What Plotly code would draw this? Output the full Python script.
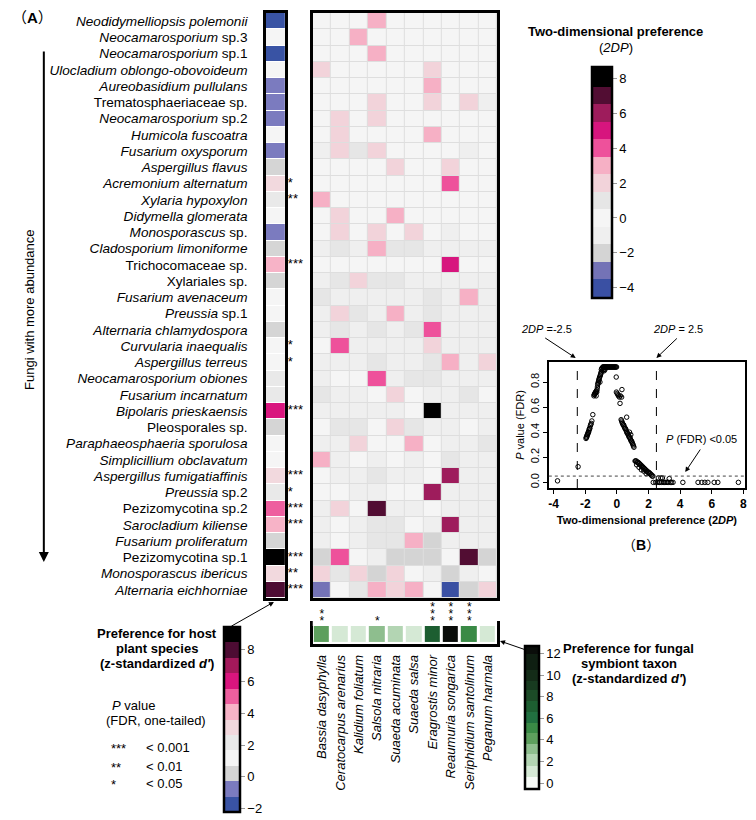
import plotly.graph_objects as go

W, H = 756, 820
def PX(x): return x / W
def PY(y): return 1 - y / H

FONT = "Arial, Liberation Sans, Noto Sans CJK SC, sans-serif"

# ---------------- data ----------------
fungi = [
    "<i>Neodidymelliopsis polemonii</i>", "<i>Neocamarosporium</i> sp.3", "<i>Neocamarosporium</i> sp.1",
    "<i>Ulocladium oblongo-obovoideum</i>", "<i>Aureobasidium pullulans</i>", "Trematosphaeriaceae sp.",
    "<i>Neocamarosporium</i> sp.2", "<i>Humicola fuscoatra</i>", "<i>Fusarium oxysporum</i>",
    "<i>Aspergillus flavus</i>", "<i>Acremonium alternatum</i>", "<i>Xylaria hypoxylon</i>",
    "<i>Didymella glomerata</i>", "<i>Monosporascus</i> sp.", "<i>Cladosporium limoniforme</i>",
    "Trichocomaceae sp.", "Xylariales sp.", "<i>Fusarium avenaceum</i>",
    "<i>Preussia</i> sp.1", "<i>Alternaria chlamydospora</i>", "<i>Curvularia inaequalis</i>",
    "<i>Aspergillus terreus</i>", "<i>Neocamarosporium obiones</i>", "<i>Fusarium incarnatum</i>",
    "<i>Bipolaris prieskaensis</i>", "Pleosporales sp.", "<i>Paraphaeosphaeria sporulosa</i>",
    "<i>Simplicillium obclavatum</i>", "<i>Aspergillus fumigatiaffinis</i>", "<i>Preussia</i> sp.2",
    "Pezizomycotina sp.2", "<i>Sarocladium kiliense</i>", "<i>Fusarium proliferatum</i>",
    "Pezizomycotina sp.1", "<i>Monosporascus ibericus</i>", "<i>Alternaria eichhorniae</i>",
]

plants = ["Bassia dasyphylla", "Ceratocarpus arenarius", "Kalidium foliatum", "Salsola nitraria",
          "Suaeda acuminata", "Suaeda salsa", "Eragrostis minor", "Reaumuria songarica",
          "Seriphidium santolinum", "Peganum harmala"]

# two-dimensional preference (2DP), rows = fungi, cols = plants
dp2 = [
    [0, 0, 0, 3, 0, 0, 0, 0, 0, 0],
    [0, 0, 3, 0, 0, 0, 0, 0, 0, 0],
    [0, 0, 0, 3, 0, 0, 0, 0, 0, 0],
    [2, 0, 0, 0, 0, 0, 2, 0, 0, 0],
    [0, 0, 0, 0, 0, 0, 3, 0, 0, 0],
    [0, 0, 0, 2, 0, 0, 2, 0, 2, -1],
    [0, 2, 0, 2, 0, 0, 0, 0, 0, 0],
    [0, 2, 0, 0, 0, 0, 3, 0, 0, 0],
    [-1, 2, 1, 2, 0, 0, 0, 0, -1, 0],
    [0, 0, 0, 0, 2, 0, 0, 2, 0, 0],
    [0, 0, 0, 0, 0, 0, 0, 4, 0, 0],
    [3, 0, 0, 0, 0, 0, 0, 0, 0, 0],
    [0, 2, 0, 0, 3, 0, 0, 0, 0, 0],
    [0, 2, 0, 2, 0, 2, 0, -1, 0, 0],
    [-1, 1, -1, 3, 1, 1, -1, -1, -1, -1],
    [0, 0, 0, 0, 0, 0, 0, 5, 0, 0],
    [-1, 1, 2, 1, 1, -1, -1, -1, -1, -1],
    [1, -1, -1, -1, -1, -1, 1, -1, 3, -1],
    [-1, 2, 1, -1, 3, -1, 1, -1, -1, -1],
    [-1, 1, -1, 1, -1, 1, 4, -1, -1, -1],
    [0, 4, -1, -1, -1, -1, 2, -1, -1, -1],
    [-1, -1, -1, 1, -1, -1, 1, 3, -1, 2],
    [-1, 0, 0, 4, -1, 1, 1, -1, -1, -1],
    [1, -1, -1, 0, 2, 0, -1, -1, 1, 0],
    [-1, -1, -1, -1, -1, 0, 8, -1, -1, -1],
    [0, 1, 1, 0, 2, 1, -1, -1, 0, -1],
    [-1, -1, 2, 0, 0, 3, 0, -1, -1, 1],
    [3, -1, 0, -1, 0, -1, 0, 1, -1, -1],
    [0, -1, -1, 1, -1, -1, 0, 6, -1, -1],
    [0, 0, -1, -1, 0, 0, 6, -1, -1, -1],
    [-1, 2, 0, 7, -1, -1, 0, -1, -1, -1],
    [-1, 0, -1, 1, 1, 0, -1, 6, -1, -1],
    [-1, 0, -1, 1, 1, 3, -2, -1, -1, -1],
    [-2, 4, 0, -1, -2, -2, -2, 0, 7, -2],
    [2, 1, 2, -2, 2, 0, -1, -2, -1, 0],
    [-3, 0, 1, 3, 2, 3, 0, -4, -2, 2],
]

# preference for host plant species (z-standardized d') per fungus
host_pref = [-1.7, 1.2, -1.7, 1.2, -0.75, -0.75, -0.75, 1.2, -0.75, 0.2,
             3.1, 2.2, 1.2, -0.75, 0.2, 4.1, 0.2, 1.2, 1.2, 0.2,
             1.2, 1.2, 2.2, 2.2, 6.0, 0.2, 1.2, 1.2, 3.1, 2.2,
             5.0, 4.1, 0.2, 9.0, 3.1, 8.0]
host_stars = ["", "", "", "", "", "", "", "", "", "",
              "*", "**", "", "", "", "***", "", "", "", "",
              "*", "*", "", "", "***", "", "", "", "***", "*",
              "***", "***", "", "***", "**", "***"]

# preference for fungal symbiont taxon (z-standardized d') per plant
plant_pref = [4.1, 0.9, 1.3, 3.2, 2.0, 1.2, 7.0, 12.2, 5.0, 1.3]
plant_stars = ["**", "", "", "*", "", "", "***", "***", "***", ""]

# panel B: 2DP vs FDR P value
scatter_x = [
    -3.75, -2.45,
    -1.95, -1.93, -1.91, -1.89, -1.87, -1.85, -1.83, -1.81, -1.79, -1.77, -1.75, -1.73, -1.71, -1.68, -1.65, -1.62, -1.58, -1.52,
    -1.45, -1.43, -1.41, -1.39, -1.37, -1.35, -1.33, -1.31, -1.29, -1.27, -1.25, -1.23, -1.21, -1.19, -1.17, -1.15, -1.13, -1.11,
    -1.09, -1.07, -1.05, -1.03, -1.01, -0.99,
    -0.98, -0.95, -0.92, -0.89, -0.86, -0.83, -0.80, -0.77, -0.74, -0.71, -0.68, -0.65, -0.62, -0.58, -0.54, -0.50, -0.46, -0.42,
    -0.38, -0.34, -0.30, -0.26, -0.22, -0.18, -0.14, -0.10, -0.06, -0.02, -0.90, -0.85, -0.80, -0.75,
    -0.04, -0.03, 0.02, 0.06, 0.10, 0.16, 0.22, 0.30, 0.20, 0.32,
    0.27, 0.30, 0.33, 0.36, 0.39, 0.42, 0.45, 0.48, 0.51, 0.54, 0.57, 0.60, 0.63, 0.66, 0.69, 0.72, 0.75, 0.78, 0.81, 0.84,
    0.87, 0.90, 0.93, 0.96, 0.99, 1.02, 1.05, 1.08, 0.62, 0.80, 0.88,
    1.15, 1.19, 1.23, 1.27, 1.31, 1.35, 1.39, 1.43, 1.47, 1.51, 1.55, 1.59, 1.63, 1.67, 1.71, 1.75, 1.79, 1.83, 1.87, 1.91,
    1.95, 1.99, 2.03, 2.07, 2.11, 2.15, 2.19, 2.23, 2.28, 1.25, 1.40, 1.55, 1.70, 1.85,
    2.30, 2.45, 2.55, 2.62, 2.68, 2.72, 2.78, 2.83, 2.88, 2.93, 3.00, 3.10, 3.18, 3.25, 3.31, 3.38, 3.45, 3.55, 4.17,
    5.13, 5.37, 5.56, 5.75, 6.15, 6.38, 7.68,
]
scatter_y = [
    0.012, 0.125,
    0.35, 0.36, 0.36, 0.37, 0.38, 0.38, 0.39, 0.40, 0.40, 0.41, 0.42, 0.43, 0.43, 0.45, 0.46, 0.47, 0.49, 0.54,
    0.69, 0.70, 0.70, 0.71, 0.71, 0.72, 0.72, 0.69, 0.73, 0.72, 0.74, 0.76, 0.78, 0.79, 0.80, 0.81, 0.82, 0.83,
    0.84, 0.80, 0.85, 0.86, 0.87, 0.88,
    0.90, 0.91, 0.91, 0.92, 0.92, 0.92, 0.92, 0.92, 0.92, 0.92, 0.92, 0.92, 0.92, 0.92, 0.92, 0.92, 0.92, 0.92,
    0.92, 0.92, 0.92, 0.92, 0.92, 0.92, 0.92, 0.92, 0.92, 0.92, 0.89, 0.90, 0.89, 0.90,
    0.84, 0.72, 0.71, 0.70, 0.69, 0.68, 0.69, 0.68, 0.63, 0.74,
    0.50, 0.49, 0.48, 0.47, 0.46, 0.46, 0.45, 0.44, 0.43, 0.43, 0.42, 0.41, 0.40, 0.39, 0.39, 0.38, 0.37, 0.36, 0.36, 0.35,
    0.34, 0.33, 0.33, 0.32, 0.31, 0.30, 0.29, 0.28, 0.52, 0.40, 0.38,
    0.17, 0.17, 0.17, 0.16, 0.16, 0.16, 0.15, 0.15, 0.14, 0.14, 0.13, 0.13, 0.12, 0.12, 0.11, 0.11, 0.10, 0.10, 0.09, 0.09,
    0.08, 0.08, 0.08, 0.07, 0.07, 0.06, 0.06, 0.05, 0.05, 0.14, 0.12, 0.10, 0.09, 0.07,
    0.0, 0.0, 0.0, 0.035, 0.0, 0.0, 0.035, 0.0, 0.035, 0.0, 0.0, 0.0, 0.0, 0.0, 0.03, 0.0, 0.0, 0.0, 0.0,
    0.0, 0.0, 0.0, 0.0, 0.0, 0.0, 0.0,
]
dp_thresholds = [-2.5, 2.5]
fdr_cut = 0.05

# ---------------- colour scales ----------------
def stepped(bounds, colors):
    lo, hi = bounds[0], bounds[-1]
    cs = []
    for i, c in enumerate(colors):
        cs.append([(bounds[i] - lo) / (hi - lo), c])
        cs.append([(bounds[i + 1] - lo) / (hi - lo), c])
    cs[0][0] = 0.0
    cs[-1][0] = 1.0
    return cs

dp_bounds = [-4.58, -3.5, -2.5, -1.5, -0.5, 0.5, 1.5, 2.5, 3.5, 4.5, 5.5, 6.5, 7.5, 8.64]
dp_colors = ["#3a50a3", "#7473b6", "#d4d4d4", "#efefef", "#f5f5f5", "#e6e6e6", "#f2d3da",
             "#f6b0c5", "#ee519b", "#d7157e", "#9e1c5c", "#520d33", "#000000"]
host_bounds = [-2.2, -1.23, -0.27, 0.70, 1.67, 2.63, 3.6, 4.57, 5.53, 6.5, 7.47, 8.43, 9.4]
host_colors = ["#3953a4", "#7b7bbf", "#d5d5d5", "#f5f5f5", "#e9e9e9", "#f2d9de", "#f7b3c7",
               "#ee5f9f", "#d9157e", "#a3195b", "#4d0c33", "#000000"]
pl_bounds = [-0.55, 0.55, 1.6, 2.7, 3.65, 4.6, 5.55, 6.55, 7.6, 8.6, 9.5, 10.5, 11.95, 12.7]
pl_colors = ["#f7fbf7", "#d5e9d5", "#b3d5b3", "#8ebe8e", "#5d9f5d", "#3a8a46", "#217040",
             "#1d5e31", "#1c4b27", "#183b20", "#142c18", "#0f1f12", "#0a0d0a"]

fig = go.Figure()

def cbar(x0, y_top, y_bot, thick, tickvals):
    return dict(x=PX(x0), xanchor="left", y=PY((y_top + y_bot) / 2), yanchor="middle",
                len=y_bot - y_top, lenmode="pixels", thickness=thick, thicknessmode="pixels",
                outlinewidth=2.5, outlinecolor="black", tickvals=tickvals, ticks="outside",
                ticklen=4, tickcolor="#999999", tickwidth=1,
                tickfont=dict(size=13, family=FONT, color="black"), xpad=0, ypad=0)

# main heatmap
fig.add_trace(go.Heatmap(
    z=dp2, x=list(range(len(plants))), y=list(range(len(fungi))),
    xaxis="x", yaxis="y", zmin=dp_bounds[0], zmax=dp_bounds[-1],
    colorscale=stepped(dp_bounds, dp_colors), xgap=1, ygap=1, hoverinfo="skip",
    colorbar=cbar(593, 67, 298, 20, [-4, -2, 0, 2, 4, 6, 8])))

# host preference column
fig.add_trace(go.Heatmap(
    z=[[v] for v in host_pref], x=[0], y=list(range(len(fungi))),
    xaxis="x2", yaxis="y2", zmin=host_bounds[0], zmax=host_bounds[-1],
    colorscale=stepped(host_bounds, host_colors), ygap=1, hoverinfo="skip",
    colorbar=cbar(224, 627, 812, 16, [-2, 0, 2, 4, 6, 8])))

# plant preference row
fig.add_trace(go.Heatmap(
    z=[plant_pref], x=list(range(len(plants))), y=[0],
    xaxis="x3", yaxis="y3", zmin=pl_bounds[0], zmax=pl_bounds[-1],
    colorscale=stepped(pl_bounds, pl_colors), xgap=3, hoverinfo="skip",
    colorbar=cbar(526, 646, 789, 14, [0, 2, 4, 6, 8, 10, 12])))

# stars for fungi
star_rows = [i for i, s in enumerate(host_stars) if s]
fig.add_trace(go.Scatter(
    x=[0] * len(star_rows), y=star_rows, text=[host_stars[i] for i in star_rows],
    mode="text", textposition="middle right", cliponaxis=False, hoverinfo="skip",
    textfont=dict(size=13, family=FONT, color="black"), xaxis="x5", yaxis="y2", showlegend=False))

# stars for plants (stacked)
sx, sy = [], []
for j, s in enumerate(plant_stars):
    for k in range(len(s)):
        sx.append(j)
        sy.append(k)
fig.add_trace(go.Scatter(
    x=sx, y=sy, text=["*"] * len(sx), mode="text", textposition="middle center",
    cliponaxis=False, hoverinfo="skip", textfont=dict(size=12, family=FONT, color="black"),
    xaxis="x3", yaxis="y6", showlegend=False))

# scatter panel B
fig.add_trace(go.Scatter(
    x=scatter_x, y=scatter_y, mode="markers", xaxis="x4", yaxis="y4", hoverinfo="skip",
    marker=dict(symbol="circle-open", size=4.5, color="black", line=dict(width=1, color="black")),
    showlegend=False))

frame = dict(showline=True, mirror=True, linecolor="black", showgrid=False, zeroline=False)

fig.update_layout(
    width=W, height=H, margin=dict(l=0, r=0, t=0, b=0),
    paper_bgcolor="white", plot_bgcolor="white", showlegend=False,
    font=dict(family=FONT, size=13, color="black"),
    xaxis=dict(domain=[PX(313), PX(498)], range=[-0.5, 9.5], showticklabels=False, ticks="",
               linewidth=2.5, anchor="y", **frame),
    yaxis=dict(domain=[PY(598), PY(13)], range=[35.5, -0.5], showticklabels=False, ticks="",
               linewidth=2.5, anchor="x", **frame),
    xaxis2=dict(domain=[PX(266), PX(285)], range=[-0.5, 0.5], showticklabels=False, ticks="",
                linewidth=2.5, anchor="y2", **frame),
    yaxis2=dict(domain=[PY(598), PY(13)], range=[35.5, -0.5], tickvals=list(range(len(fungi))),
                ticktext=fungi, ticks="outside", ticklen=13, tickcolor="rgba(0,0,0,0)",
                tickfont=dict(size=13.6, family=FONT), linewidth=2.5, anchor="x2", **frame),
    xaxis3=dict(domain=[PX(313), PX(498)], range=[-0.5, 9.5], tickvals=list(range(len(plants))),
                ticktext=["<i>%s</i>" % p for p in plants], tickangle=-90, ticks="outside",
                ticklen=3, tickcolor="rgba(0,0,0,0)", tickfont=dict(size=13, family=FONT),
                linewidth=2.5, anchor="y3", **frame),
    yaxis3=dict(domain=[PY(644), PY(624)], range=[-0.62, 0.62], showticklabels=False, ticks="",
                linewidth=2.5, anchor="x3", **frame),
    xaxis4=dict(domain=[PX(550), PX(747)], range=[-4.3, 8.1], tickvals=[-4, -2, 0, 2, 4, 6, 8],
                ticktext=["<b>-4</b>", "<b>-2</b>", "<b>0</b>", "<b>2</b>", "<b>4</b>", "<b>6</b>", "<b>8</b>"],
                ticks="outside", ticklen=4, tickwidth=1, tickcolor="black",
                tickfont=dict(size=12, family=FONT), linewidth=1.5, anchor="y4",
                title=dict(text="<b>Two-dimensional preference (2<i>DP</i>)</b>",
                           font=dict(size=11, family=FONT), standoff=6), **frame),
    yaxis4=dict(domain=[PY(488), PY(362)], range=[-0.045, 0.96], tickvals=[0, 0.2, 0.4, 0.6, 0.8],
                ticktext=["0.0", "0.2", "0.4", "0.6", "0.8"], tickangle=-90,
                ticks="outside", ticklen=4, tickwidth=1, tickcolor="black",
                tickfont=dict(size=11, family=FONT), linewidth=1.5, anchor="x4",
                title=dict(text="<i>P</i> value (FDR)", font=dict(size=11, family=FONT), standoff=2),
                **frame),
    xaxis5=dict(domain=[PX(288), PX(312)], range=[0, 1], visible=False, anchor="y2"),
    yaxis6=dict(domain=[PY(626), PY(604)], range=[-0.6, 2.6], visible=False, anchor="x3"),
)

shapes = [dict(type="rect", xref="x domain", yref="y domain", x0=0, x1=1, y0=0, y1=1,
               fillcolor="#dedede", line=dict(width=0), layer="below")]
for t in dp_thresholds:
    shapes.append(dict(type="line", xref="x4", yref="y4 domain", x0=t, x1=t, y0=0, y1=1,
                       line=dict(color="black", width=1, dash="dash")))
shapes.append(dict(type="line", xref="x4 domain", yref="y4", x0=0, x1=1, y0=fdr_cut, y1=fdr_cut,
                   line=dict(color="#444444", width=1, dash="dot")))
fig.update_layout(shapes=shapes)

def txt(x, y, text, size=13, xanchor="center", **kw):
    return dict(x=PX(x), y=PY(y), xref="paper", yref="paper", text=text, showarrow=False,
                xanchor=xanchor, yanchor="middle", font=dict(size=size, family=FONT, color="black"), **kw)

def arrow(xh, yh, xt, yt, width=1, head=2, size=1):
    return dict(x=PX(xh), y=PY(yh), xref="paper", yref="paper", ax=xt - xh, ay=yt - yh,
                axref="pixel", ayref="pixel", text="", showarrow=True, arrowhead=head,
                arrowsize=size, arrowwidth=width, arrowcolor="black")

ann = [
    txt(32, 17, "（<b>A</b>）", size=15),
    txt(28, 310, "Fungi with more abundance", size=13, textangle=-90),
    arrow(43, 562, 43, 50, width=2, head=2, size=1),
    txt(617, 31, "<b>Two-dimensional preference</b>", size=13),
    txt(617, 47, "(<i>2DP</i>)", size=13),
    txt(157, 633, "<b>Preference for host</b>", size=13),
    txt(157, 648, "<b>plant species</b>", size=13),
    txt(157, 663, "<b>(z-standardized <i>d′</i>)</b>", size=13),
    txt(109, 705, "<i>P</i> value", xanchor="left"),
    txt(103, 720, "(FDR, one-tailed)", xanchor="left"),
    txt(108, 748, "***", xanchor="left"),
    txt(144, 747, "< 0.001", xanchor="left"),
    txt(108, 767, "**", xanchor="left"),
    txt(144, 766, "< 0.01", xanchor="left"),
    txt(108, 784, "*", xanchor="left"),
    txt(144, 783, "< 0.05", xanchor="left"),
    arrow(274, 602, 230, 627, width=1, head=2, size=1),
    txt(630, 648, "<b>Preference for fungal</b>", size=13),
    txt(630, 663, "<b>symbiont taxon</b>", size=13),
    txt(630, 678, "<b>(z-standardized <i>d′</i>)</b>", size=13),
    arrow(501, 641, 527, 650, width=1, head=2, size=1),
    txt(548, 329, "<i>2DP</i> =-2.5", size=11),
    arrow(577, 358, 545, 337, width=1, head=2, size=1),
    txt(680, 329, "<i>2DP</i> = 2.5", size=11),
    arrow(658, 358, 680, 337, width=1, head=2, size=1),
    txt(703, 439, "<i>P</i> (FDR) <0.05", size=11),
    arrow(687, 472, 703, 448, width=1, head=2, size=1),
    txt(643, 545, "（<b>B</b>）", size=14),
]
fig.update_layout(annotations=ann)

fig.write_html("out.html", config={"displayModeBar": False},
               post_script="document.body.style.margin='0px';document.body.style.overflow='hidden';")
